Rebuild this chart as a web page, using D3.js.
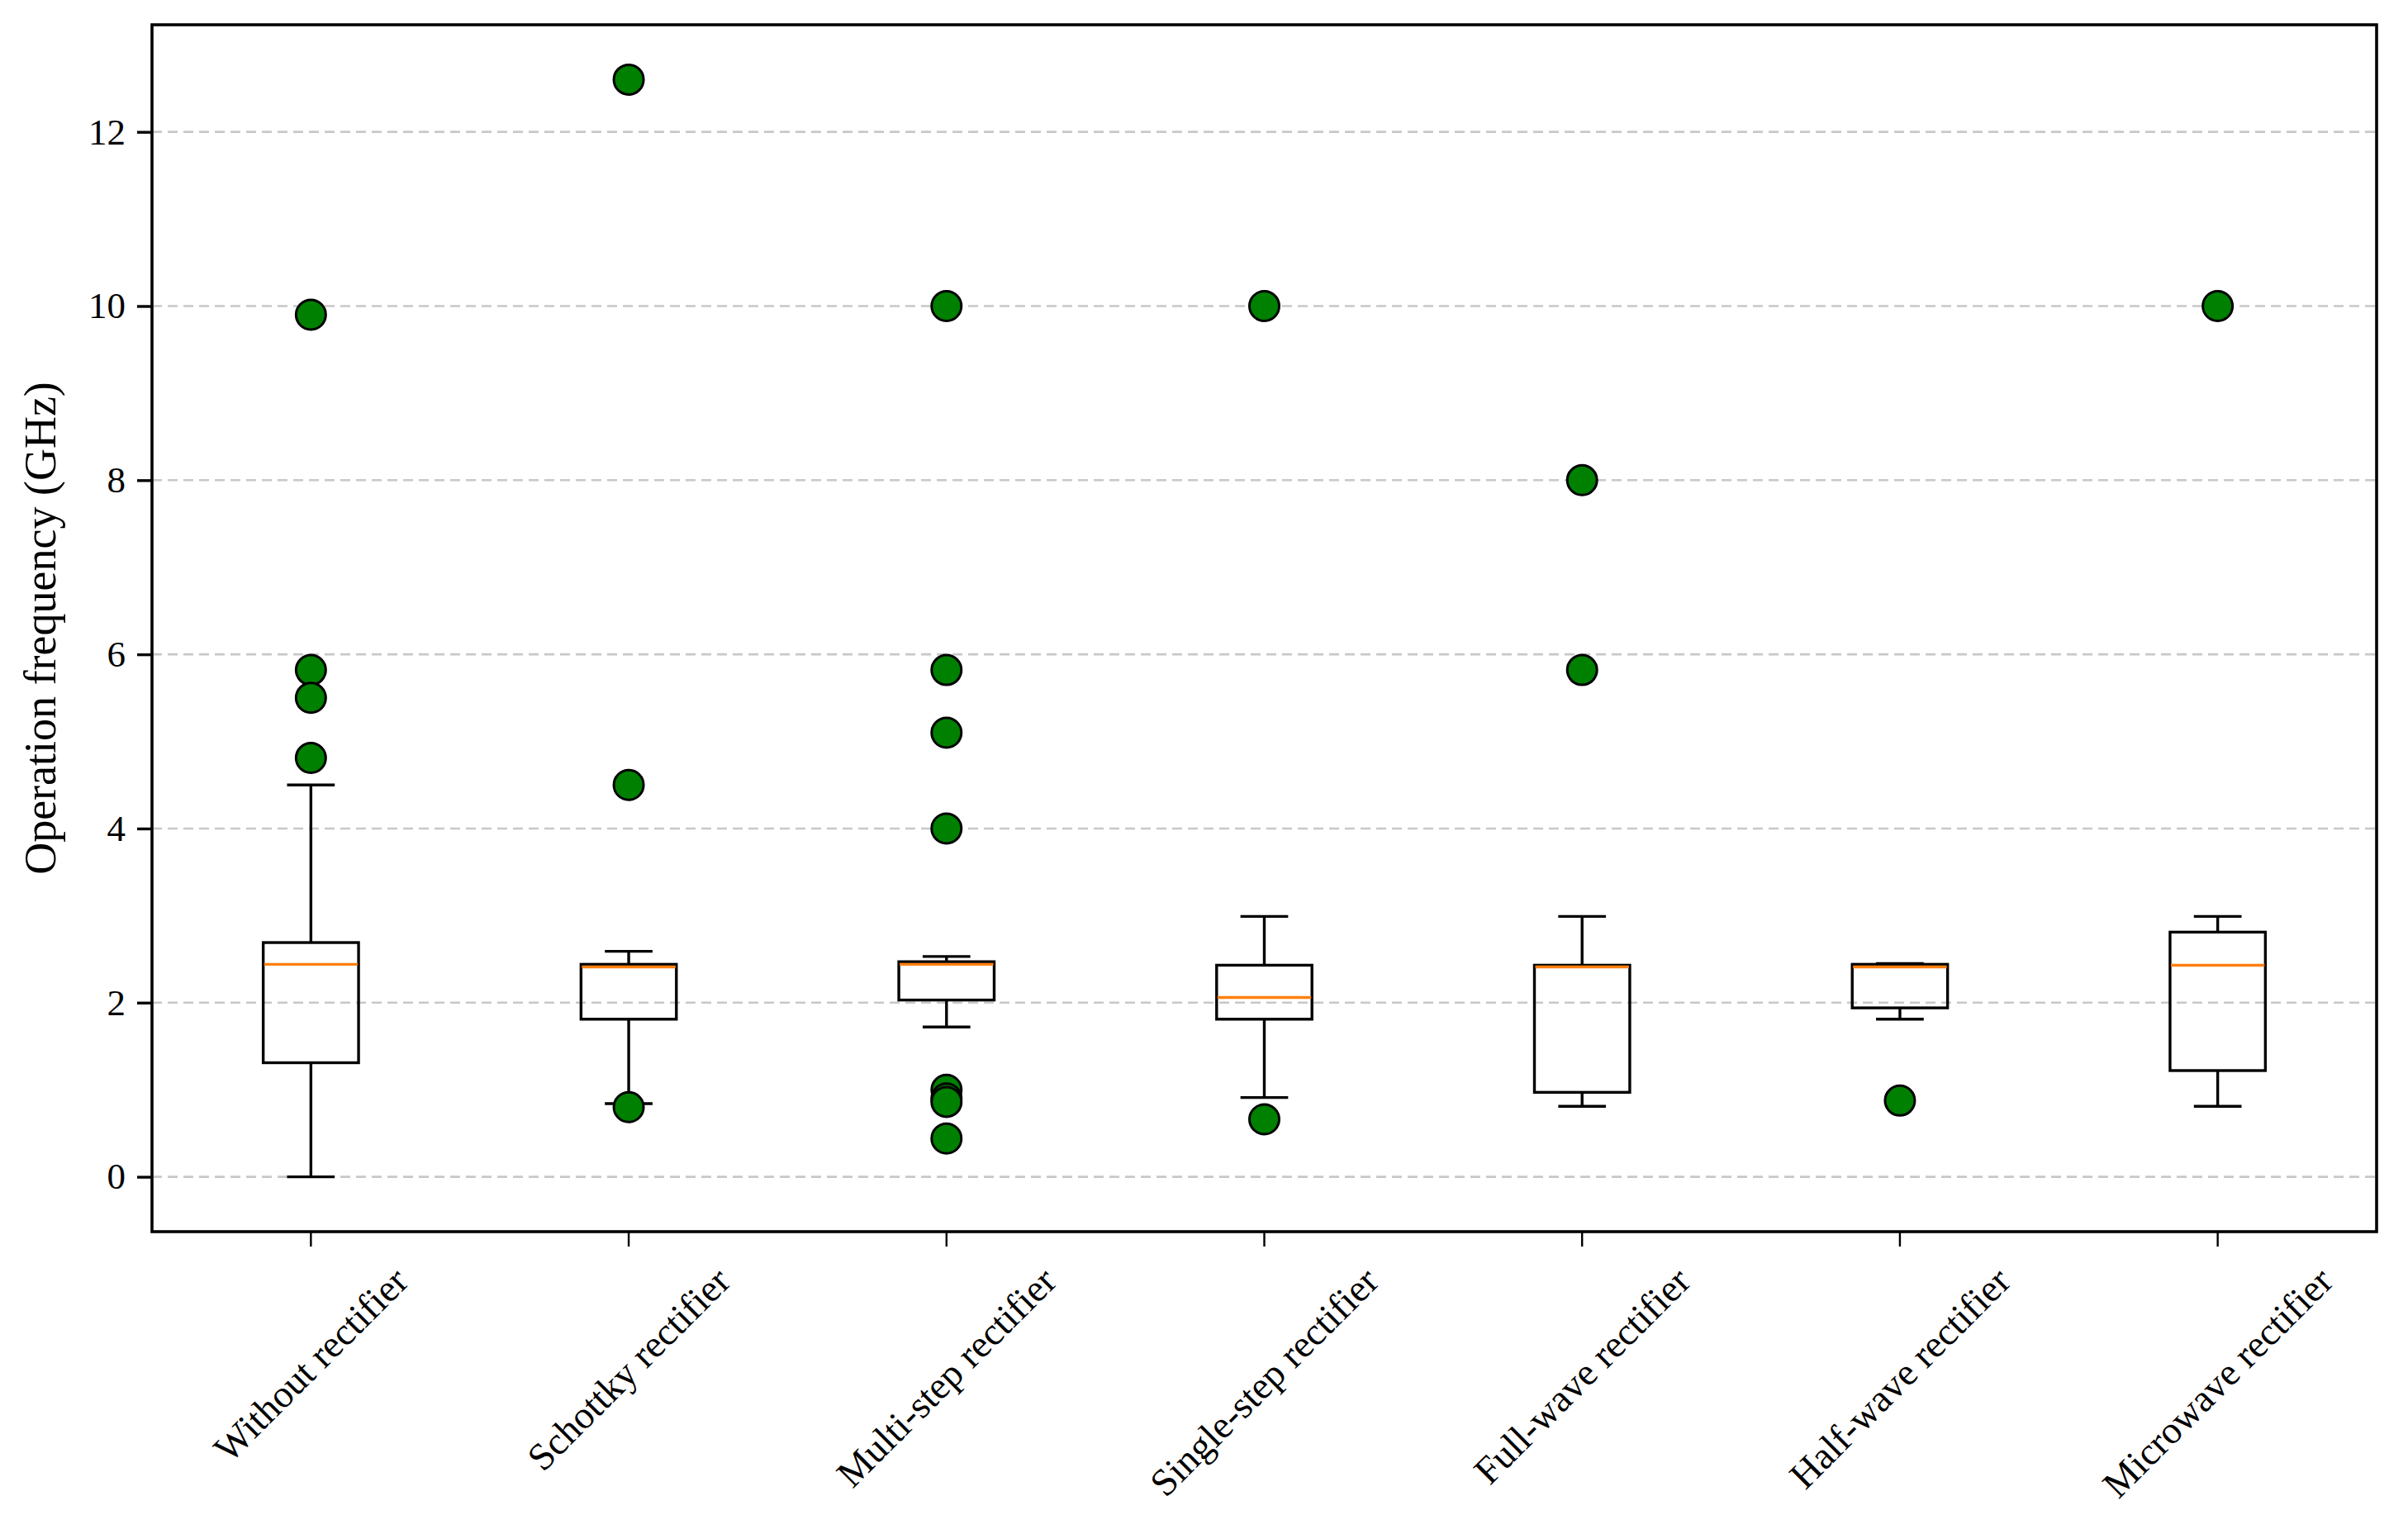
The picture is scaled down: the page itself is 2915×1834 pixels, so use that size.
<!DOCTYPE html>
<html>
<head>
<meta charset="utf-8">
<script src="https://cdn.jsdelivr.net/npm/d3@7"></script>
<style>
  html, body { margin: 0; padding: 0; background: #fff; }
  svg { display: block; }
</style>
</head>
<body>
<svg id="chart" width="2915" height="1834"></svg>
<script>
// ---- data ----
const categories = ["Without rectifier", "Schottky rectifier", "Multi-step rectifier",
  "Single-step rectifier", "Full-wave rectifier", "Half-wave rectifier", "Microwave rectifier"];
const whiskerLow  = [0.00, 0.84, 1.72, 0.91, 0.81, 1.81, 0.81];
const quartile1   = [1.31, 1.81, 2.03, 1.81, 0.97, 1.94, 1.22];
const medians     = [2.44, 2.41, 2.44, 2.06, 2.41, 2.41, 2.43];
const quartile3   = [2.69, 2.44, 2.47, 2.43, 2.43, 2.44, 2.81];
const whiskerHigh = [4.50, 2.59, 2.53, 2.99, 2.99, 2.45, 2.99];
const fliers = [
  [9.9, 5.82, 5.5, 4.81],
  [12.6, 4.5, 0.80],
  [10.0, 5.82, 5.1, 4.0, 1.0, 0.9, 0.86, 0.44],
  [10.0, 0.66],
  [8.0, 5.82],
  [0.875],
  [10.0]
];
const yTicks = [0, 2, 4, 6, 8, 10, 12];
const yLabel = "Operation frequency (GHz)";

(function () {
  // ---- layout ----
  const W = 2915, H = 1834;
  const mLeft = 184, mRight = 2877, mTop = 30, mBottom = 1491;
  const FONT = "'Liberation Serif', 'Times New Roman', 'DejaVu Serif', serif";
  const LW = 3.4;

  const svg = d3.select("#chart");
  svg.append("rect").attr("width", W).attr("height", H).attr("fill", "#fff");

  const x = d3.scaleBand().domain(categories).range([mLeft, mRight]).padding(0);
  const bw = x.bandwidth();
  const cx = c => x(c) + bw / 2;
  const y = d3.scaleLinear().domain([-0.63, 13.23]).range([mBottom, mTop]);

  // grid
  svg.append("g").selectAll("line").data(yTicks).join("line")
    .attr("x1", mLeft).attr("x2", mRight)
    .attr("y1", d => y(d)).attr("y2", d => y(d))
    .attr("stroke", "#c8c8c8").attr("stroke-width", 2.6)
    .attr("stroke-dasharray", "12,7");

  // y axis
  const yAxis = d3.axisLeft(y).tickValues(yTicks).tickSize(18).tickPadding(14).tickFormat(d3.format("d"));
  const gy = svg.append("g").attr("transform", `translate(${mLeft},0)`).call(yAxis);
  gy.select(".domain").remove();
  gy.selectAll(".tick line").attr("stroke", "#000").attr("stroke-width", LW);
  gy.selectAll(".tick text").attr("font-family", FONT).attr("font-size", 45).attr("fill", "#000");

  // x axis ticks
  const xAxis = d3.axisBottom(x).tickSize(18).tickFormat("");
  const gx = svg.append("g").attr("transform", `translate(0,${mBottom})`).call(xAxis);
  gx.select(".domain").remove();
  gx.selectAll(".tick line").attr("stroke", "#000").attr("stroke-width", 2.4);

  // x labels rotated 45 deg, centered on tick
  const labelTop = 1528;
  const fs = 46.5;
  const xl = svg.append("g");
  categories.forEach(c => {
    const t = xl.append("text")
      .attr("font-family", FONT).attr("font-size", fs).attr("fill", "#000")
      .attr("text-anchor", "middle").attr("dominant-baseline", "central")
      .text(c);
    const w = t.node().getComputedTextLength();
    const h = fs * 0.9;
    const cy = labelTop + (w + h) / (2 * Math.SQRT2);
    t.attr("transform", `translate(${cx(c)},${cy}) rotate(-45)`);
  });

  // y label
  svg.append("text")
    .attr("font-family", FONT).attr("font-size", 54).attr("fill", "#000")
    .attr("text-anchor", "middle")
    .attr("transform", `translate(67,${(mTop + mBottom) / 2}) rotate(-90)`)
    .text(yLabel);

  // boxes
  const g = svg.append("g");
  const boxW = bw * 0.3, capW = bw * 0.15;
  categories.forEach((c, i) => {
    const xc = cx(c);
    g.append("line").attr("x1", xc).attr("x2", xc).attr("y1", y(quartile3[i])).attr("y2", y(whiskerHigh[i]))
      .attr("stroke", "#000").attr("stroke-width", LW);
    g.append("line").attr("x1", xc).attr("x2", xc).attr("y1", y(quartile1[i])).attr("y2", y(whiskerLow[i]))
      .attr("stroke", "#000").attr("stroke-width", LW);
    [whiskerHigh[i], whiskerLow[i]].forEach(v => {
      g.append("line").attr("x1", xc - capW / 2).attr("x2", xc + capW / 2).attr("y1", y(v)).attr("y2", y(v))
        .attr("stroke", "#000").attr("stroke-width", LW);
    });
    g.append("rect").attr("x", xc - boxW / 2).attr("width", boxW)
      .attr("y", y(quartile3[i])).attr("height", y(quartile1[i]) - y(quartile3[i]))
      .attr("fill", "none").attr("stroke", "#000").attr("stroke-width", LW);
    g.append("line").attr("x1", xc - boxW / 2 + 1).attr("x2", xc + boxW / 2 - 1)
      .attr("y1", y(medians[i])).attr("y2", y(medians[i]))
      .attr("stroke", "#ff7f0e").attr("stroke-width", 3.4);
    g.selectAll(null).data(fliers[i]).join("circle")
      .attr("cx", xc).attr("cy", d => y(d)).attr("r", 18)
      .attr("fill", "#008000").attr("stroke", "#000").attr("stroke-width", 3);
  });

  // frame
  svg.append("rect").attr("x", mLeft).attr("y", mTop).attr("width", mRight - mLeft).attr("height", mBottom - mTop)
    .attr("fill", "none").attr("stroke", "#000").attr("stroke-width", 3.6);
})();
</script>
</body>
</html>
